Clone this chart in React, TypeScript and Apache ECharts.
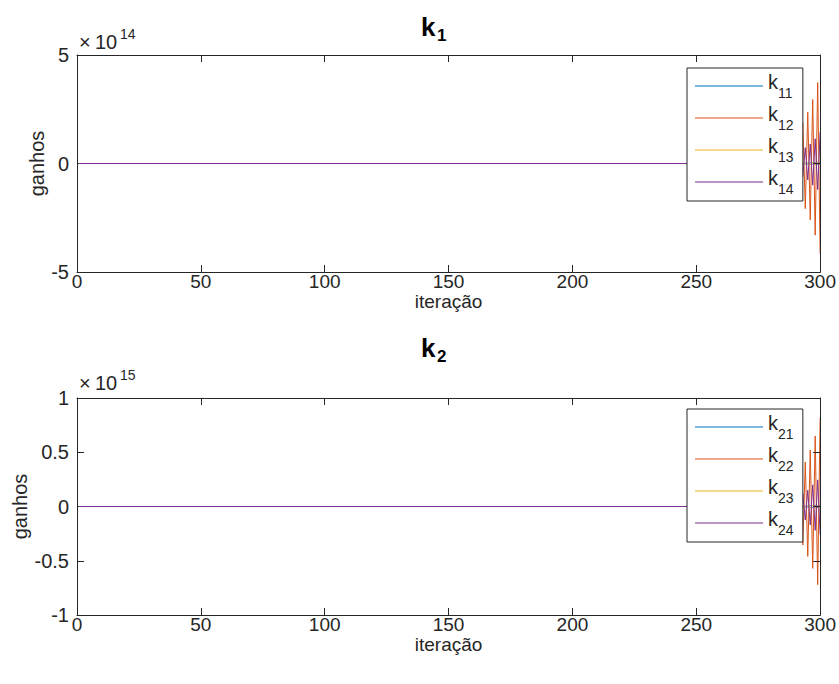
import React, { useEffect, useRef } from "react";
import * as echarts from "echarts";

// ---- data ----
const iterStart = 1;
const flatEnd = 283;
const tailIter = [284, 285, 286, 287, 288, 289, 290, 291, 292, 293, 294, 295, 296, 297, 298, 299, 300];

// k1 gains (units of 1e14)
const k1Scale = 1e14;
const k11 = [0.01, -0.01, 0.01, -0.012, 0.013, -0.015, 0.017, -0.019, 0.021, -0.024, 0.027, -0.03, 0.034, -0.038, 0.042, -0.047, 0.053];
const k12 = [-0.65, 0.75, -0.85, 0.95, -1.06, 1.19, -1.33, 1.49, -1.66, 1.86, -2.08, 2.36, -2.6, 2.95, -3.3, 3.73, -4.17];
const k13 = [-0.015, 0.017, -0.019, 0.021, -0.024, 0.027, -0.03, 0.034, -0.038, 0.042, -0.047, 0.053, -0.059, 0.066, -0.074, 0.083, -0.093];
const k14 = [0.22, -0.25, 0.28, -0.32, 0.36, -0.41, 0.46, -0.52, 0.55, -0.6, 0.73, -0.76, 0.9, -1.0, 1.14, -1.2, 1.45];

// k2 gains (units of 1e15)
const k2Scale = 1e15;
const k21 = [0.002, -0.002, 0.003, -0.003, 0.003, -0.004, 0.004, -0.005, 0.005, -0.006, 0.006, -0.007, 0.008, -0.009, 0.01, -0.011, 0.012];
const k22 = [0.12, -0.14, 0.16, -0.18, 0.2, -0.23, 0.26, -0.29, 0.33, -0.355, 0.41, -0.46, 0.52, -0.57, 0.65, -0.72, 0.82];
const k23 = [-0.003, 0.003, -0.004, 0.004, -0.005, 0.005, -0.006, 0.006, -0.007, 0.008, -0.009, 0.01, -0.011, 0.012, -0.013, 0.015, -0.016];
const k24 = [-0.035, 0.04, -0.045, 0.05, -0.06, 0.07, -0.08, 0.09, -0.1, 0.12, -0.125, 0.15, -0.17, 0.2, -0.22, 0.245, -0.26];

const xTicks = { min: 0, max: 300, interval: 50 };
const colors = ["#0072BD", "#D95319", "#EDB120", "#7E2F8E"];
const FONT = "'Liberation Sans', Arial, Helvetica, sans-serif";
const AX = "#262626";

function buildData(vals: number[], scale: number) {
  const pts: number[][] = [[iterStart, 0], [flatEnd, 0]];
  tailIter.forEach((t, i) => pts.push([t, vals[i] * scale]));
  return pts;
}

export default function App() {
  const ref = useRef<HTMLDivElement>(null);
  useEffect(() => {
    if (!ref.current) return;
    const chart = echarts.init(ref.current, null, { renderer: "svg" });

    const gridL = 77, gridW = 745, gridH = 217;
    const tops = [55, 398];

    const xAxes: any[] = [];
    const yAxes: any[] = [];
    const yRanges = [
      { min: -5e14, max: 5e14, interval: 5e14, scale: k1Scale, nameGap: 30 },
      { min: -1e15, max: 1e15, interval: 5e14, scale: k2Scale, nameGap: 47 },
    ];
    [0, 1].forEach((g) => {
      xAxes.push({
        type: "value", gridIndex: g, position: "bottom", ...xTicks,
        axisLine: { show: true, onZero: false, lineStyle: { color: AX, width: 1 } },
        axisTick: { show: true, inside: true, length: 7, lineStyle: { color: AX } },
        axisLabel: { color: AX, fontSize: 19, lineHeight: 19, fontFamily: FONT, margin: 0 },
        splitLine: { show: false },
        name: "iteração", nameLocation: "middle", nameGap: 20, nameMoveOverlap: false,
        nameTextStyle: { color: AX, fontSize: 19, lineHeight: 19, fontFamily: FONT },
      });
      xAxes.push({
        type: "value", gridIndex: g, position: "top", ...xTicks,
        axisLine: { show: true, onZero: false, lineStyle: { color: AX, width: 1 } },
        axisTick: { show: true, inside: true, length: 7, lineStyle: { color: AX } },
        axisLabel: { show: false },
        splitLine: { show: false },
      });
      const r = yRanges[g];
      yAxes.push({
        type: "value", gridIndex: g, position: "left", min: r.min, max: r.max, interval: r.interval,
        axisLine: { show: true, onZero: false, lineStyle: { color: AX, width: 1 } },
        axisTick: { show: true, inside: true, length: 7, lineStyle: { color: AX } },
        axisLabel: { color: AX, fontSize: 20, fontFamily: FONT, margin: 8, formatter: (v: number) => String(v / r.scale) },
        splitLine: { show: false },
        name: "ganhos", nameLocation: "middle", nameGap: r.nameGap, nameRotate: 90, nameMoveOverlap: false,
        nameTextStyle: { color: AX, fontSize: 20, fontFamily: FONT },
      });
      yAxes.push({
        type: "value", gridIndex: g, position: "right", min: r.min, max: r.max, interval: r.interval,
        axisLine: { show: true, onZero: false, lineStyle: { color: AX, width: 1 } },
        axisTick: { show: true, inside: true, length: 7, lineStyle: { color: AX } },
        axisLabel: { show: false },
        splitLine: { show: false },
        z: 5,
      });
    });

    const groups = [
      { names: ["k11", "k12", "k13", "k14"], vals: [k11, k12, k13, k14], scale: k1Scale },
      { names: ["k21", "k22", "k23", "k24"], vals: [k21, k22, k23, k24], scale: k2Scale },
    ];
    const series: any[] = [];
    groups.forEach((grp, g) => {
      grp.names.forEach((n, i) => {
        series.push({
          type: "line", name: n, xAxisIndex: g * 2, yAxisIndex: g * 2,
          data: buildData(grp.vals[i], grp.scale),
          showSymbol: false, symbol: "none",
          lineStyle: { color: colors[i], width: 1 },
          itemStyle: { color: colors[i] },
        });
      });
    });

    const legendRich = {
      k: { fontSize: 20, fontFamily: FONT, color: AX, lineHeight: 20, verticalAlign: "top" },
      s: { fontSize: 14, fontFamily: FONT, color: AX, lineHeight: 14, verticalAlign: "bottom" },
      z: { fontSize: 1, lineHeight: 28 },
    };
    const legends = groups.map((grp, g) => ({
      data: grp.names,
      orient: "vertical",
      left: 687, top: g === 0 ? 68 : 409,
      icon: "rect",
      itemWidth: 68, itemHeight: 1.2, itemGap: 4,
      padding: [4, 9, 5, 8],
      backgroundColor: "#ffffff",
      borderColor: AX, borderWidth: 1,
      z: 10,
      formatter: (name: string) => `{k|k}{s|${name.slice(1)}}{z| }`,
      textStyle: { rich: legendRich },
      selectedMode: false,
    }));

    const graphic: any[] = [];
    const titles = [
      { sub: "1", y: 28 },
      { sub: "2", y: 349 },
    ];
    titles.forEach((t) => {
      graphic.push({ type: "text", left: 421, top: t.y - 14, style: { text: "k", fontSize: 26, fontWeight: "bold", fontFamily: FONT, fill: "#000" } });
      graphic.push({ type: "text", left: 437, top: t.y - 1, style: { text: t.sub, fontSize: 17, fontWeight: "bold", fontFamily: FONT, fill: "#000" } });
    });
    const mult = [
      { exp: "14", y: 43 },
      { exp: "15", y: 384 },
    ];
    mult.forEach((m) => {
      graphic.push({ type: "text", left: 79, top: m.y - 11, style: { text: "×", fontSize: 20, fontFamily: FONT, fill: AX } });
      graphic.push({ type: "text", left: 95, top: m.y - 11, style: { text: "10", fontSize: 20, fontFamily: FONT, fill: AX } });
      graphic.push({ type: "text", left: 120, top: m.y - 16, style: { text: m.exp, fontSize: 14, fontFamily: FONT, fill: AX } });
    });

    chart.setOption({
      animation: false,
      backgroundColor: "#ffffff",
      grid: tops.map((t) => ({ left: gridL, top: t, width: gridW, height: gridH, containLabel: false })),
      xAxis: xAxes,
      yAxis: yAxes,
      legend: legends,
      series,
      graphic,
    });
    return () => chart.dispose();
  }, []);
  return <div ref={ref} style={{ position: "fixed", left: 0, top: 0, width: 839, height: 684 }} />;
}
